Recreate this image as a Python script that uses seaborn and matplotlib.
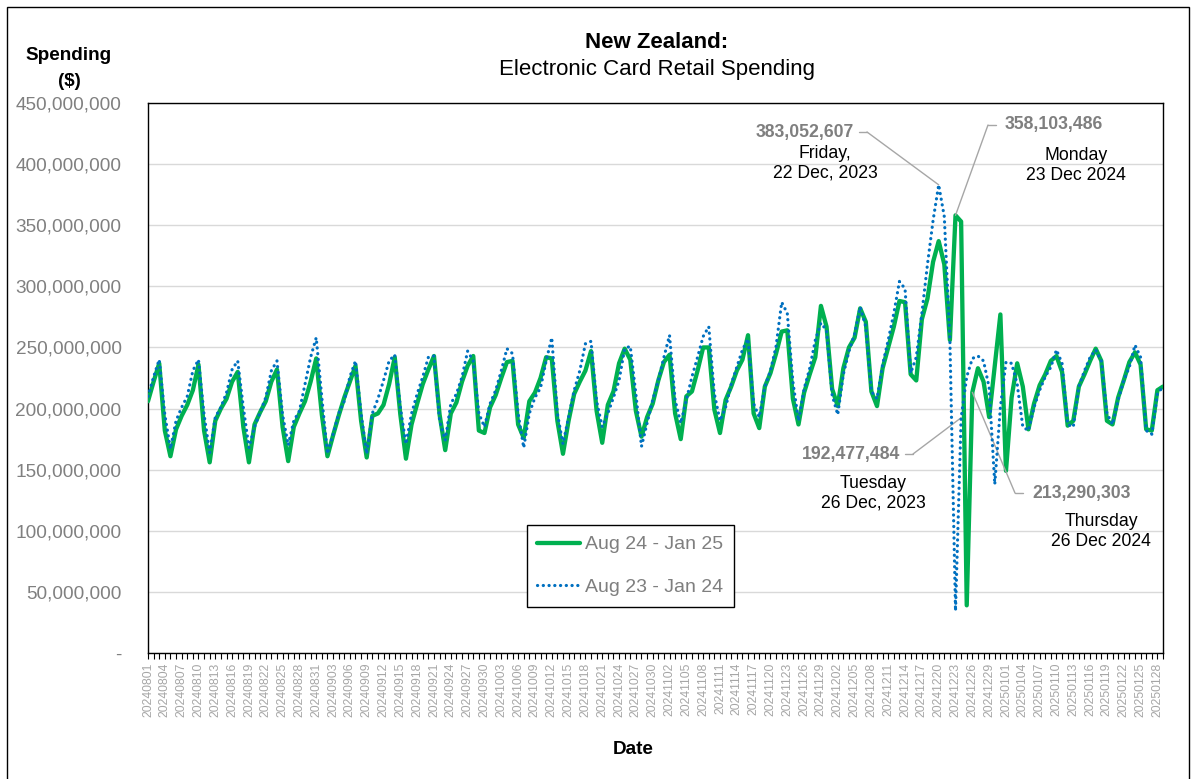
import numpy as np
import pandas as pd
import matplotlib
matplotlib.use("Agg")
import matplotlib.pyplot as plt
from matplotlib.ticker import FuncFormatter, MultipleLocator
from matplotlib.patches import Rectangle
from matplotlib.lines import Line2D
import seaborn as sns

# ---- data: daily electronic card retail spending, $ millions ----
dates = pd.date_range("2024-08-01", "2025-01-29").strftime("%Y%m%d").tolist()
series_names = ["Aug 24 - Jan 25", "Aug 23 - Jan 24"]

spend_2024 = [
    206, 222, 237, 182, 161, 183, 194, 203, 215, 236,
    182, 156, 190, 200, 208, 222, 230, 185, 156, 187,
    197, 206, 222, 232, 185, 157, 185, 196, 206, 222,
    241, 195, 161, 178, 194, 209, 222, 235, 190, 160,
    194, 196, 203, 220, 242, 195, 159, 187, 204, 220,
    232, 243, 195, 166, 196, 205, 222, 235, 243, 182,
    180, 201, 211, 225, 238, 239, 187, 176, 206, 213,
    225, 242, 241, 190, 163, 190, 212, 222, 231, 247,
    198, 172, 203, 214, 237, 249, 240, 198, 177, 193,
    204, 223, 238, 244, 196, 175, 210, 214, 231, 250,
    250, 199, 180, 207, 218, 231, 240, 260, 196, 184,
    218, 229, 245, 263, 264, 208, 187, 213, 228, 242,
    284, 267, 216, 202, 233, 250, 258, 282, 271, 214,
    202, 233, 250, 267, 288, 287, 228, 223, 273, 290,
    320, 337, 318, 256, 358.103486, 353, 39, 213.290303, 233, 222,
    193, 235, 277, 149, 209, 237, 218, 183, 204, 219,
    228, 239, 243, 230, 186, 190, 218, 228, 239, 249,
    239, 190, 187, 209, 223, 238, 246, 236, 183, 182,
    215, 218,
]

spend_2023 = [
    210, 226, 240, 195, 167, 190, 201, 210, 231, 240,
    195, 164, 193, 201, 213, 232, 239, 201, 168, 185,
    197, 209, 231, 239, 195, 170, 190, 198, 220, 242,
    258, 209, 163, 179, 196, 206, 226, 239, 196, 163,
    196, 208, 223, 239, 244, 201, 171, 196, 212, 226,
    242, 243, 190, 174, 204, 212, 226, 247, 239, 196,
    185, 204, 215, 231, 249, 245, 196, 168, 196, 209,
    217, 239, 258, 196, 171, 193, 215, 231, 253, 255,
    206, 185, 196, 209, 223, 249, 251, 212, 169, 188,
    207, 223, 242, 260, 207, 188, 207, 226, 242, 259,
    267, 212, 190, 201, 220, 234, 248, 257, 204, 193,
    218, 231, 251, 287, 278, 222, 190, 216, 233, 256,
    270, 264, 211, 195, 228, 247, 261, 283, 267, 214,
    208, 236, 256, 278, 304, 298, 229, 242, 278, 318,
    354, 383.052607, 357, 256, 34.5, 192.477484, 226, 241, 243, 239,
    217, 138, 201, 238, 237, 220, 185, 182, 201, 215,
    226, 234, 248, 237, 187, 185, 218, 231, 242, 248,
    239, 196, 187, 207, 223, 234, 252, 242, 182, 179,
    212, 218,
]

# ---- style ----
sns.set_theme(style="white")
plt.rcParams["font.family"] = ["Liberation Sans", "DejaVu Sans"]

W, H = 1195, 779
GREEN = "#00B050"
BLUE = "#0070C0"
GREY_TXT = "#7f7f7f"
LEADER = "#a6a6a6"


def fpos(px, py):
    """pixel position (from top-left) -> figure fraction"""
    return px / W, 1 - py / H


fig = plt.figure(figsize=(W / 100, H / 100), dpi=100)
fig.patch.set_facecolor("white")
ax = fig.add_axes([148 / W, 1 - 653 / H, (1163 - 148) / W, 550 / H])

day = np.arange(len(dates))
s24 = np.array(spend_2024) * 1e6
s23 = np.array(spend_2023) * 1e6

sns.lineplot(x=day, y=s24, ax=ax, color=GREEN, linewidth=3.1, zorder=3)
line24 = ax.lines[-1]
sns.lineplot(x=day, y=s23, ax=ax, color=BLUE, linewidth=2.3, zorder=4)
line23 = ax.lines[-1]
line23.set_linestyle((0, (0.05, 1.75)))
line23.set_dash_capstyle("round")
line24.set_solid_capstyle("round")
line24.set_solid_joinstyle("round")

# ---- axes ----
ax.set_xlim(0, len(dates) - 1)
ax.set_ylim(0, 450e6)
ax.yaxis.set_major_locator(MultipleLocator(50e6))
ax.yaxis.set_major_formatter(
    FuncFormatter(lambda v, _: "-" if abs(v) < 1 else f"{int(round(v)):,}"))
ax.grid(axis="y", color="#d9d9d9", linewidth=1.0)
ax.grid(axis="x", visible=False)
ax.set_axisbelow(True)
for sp in ax.spines.values():
    sp.set_visible(True)
    sp.set_color("black")
    sp.set_linewidth(1.0)

ax.set_xticks(day)
ax.set_xticklabels([d if k % 3 == 0 else "" for k, d in enumerate(dates)],
                   rotation=90, fontsize=8.7, color="#a6a6a6")
ax.tick_params(axis="x", bottom=True, length=4, width=0.8, color="black",
               direction="out", pad=3)
ax.tick_params(axis="y", left=False, length=0, pad=19, labelsize=13.7,
               labelcolor="#808080")
ax.set_xlabel("")
ax.set_ylabel("")

# ---- legend ----
leg = ax.legend([line24, line23], series_names, loc="upper left",
                bbox_to_anchor=(0.373, 0.2327), frameon=True, fancybox=False,
                edgecolor="black", fontsize=14, labelcolor=GREY_TXT,
                handlelength=2.2, handletextpad=0.25, labelspacing=1.3,
                borderpad=0.55, borderaxespad=0)
leg.get_frame().set_linewidth(1.0)
leg.get_frame().set_facecolor("white")
leg.get_frame().set_alpha(1)

# ---- titles and axis labels ----
fig.text(*fpos(657, 43), "New Zealand:", ha="center", va="center",
         fontsize=16, fontweight="bold", color="black")
fig.text(*fpos(657, 70), "Electronic Card Retail Spending", ha="center",
         va="center", fontsize=16, color="black")
fig.text(*fpos(69, 55), "Spending", ha="center", va="center", fontsize=13.6,
         fontweight="bold", color="black")
fig.text(*fpos(69, 81), "($)", ha="center", va="center", fontsize=13.6,
         fontweight="bold", color="black")
fig.text(*fpos(633, 750), "Date", ha="center", va="center", fontsize=13.6,
         fontweight="bold", color="black")


# ---- callouts ----
def callout(idx, values, text_px, align, elbow, sub_lines, sub_px):
    v = values[idx]
    label = f"{int(round(v * 1e6)):,}"
    fig.text(*fpos(*text_px), label, ha=align, va="center", fontsize=12.7,
             fontweight="bold", color=GREY_TXT)
    (hx0, hx1), hy = elbow
    fig.add_artist(Line2D([hx0 / W, hx1 / W], [1 - hy / H, 1 - hy / H],
                          transform=fig.transFigure, color=LEADER, lw=1.0))
    start = hx1 if align == "right" else hx0
    ax.annotate("", xy=(idx, v * 1e6), xycoords="data",
                xytext=fpos(start, hy), textcoords="figure fraction",
                arrowprops=dict(arrowstyle="-", color=LEADER, lw=1.0,
                                shrinkA=0, shrinkB=0))
    for k, s in enumerate(sub_lines):
        fig.text(*fpos(sub_px[0], sub_px[1] + 20 * k), s, ha="center",
                 va="center", fontsize=12.7, color="black")


i_peak23 = int(np.argmax(spend_2023))
i_peak24 = int(np.argmax(spend_2024))
callout(i_peak23, spend_2023, (854, 132), "right", ((859, 867), 132),
        ["Friday,", "22 Dec, 2023"], (825, 153))
callout(i_peak24, spend_2024, (1005, 125), "left", ((988, 996), 125),
        ["Monday", "23 Dec 2024"], (1076, 156))
callout(i_peak23 + 4, spend_2023, (900, 454), "right", ((905, 913), 454),
        ["Tuesday", "26 Dec, 2023"], (873, 483))
callout(i_peak24 + 3, spend_2024, (1032, 493), "left", ((1015, 1023), 493),
        ["Thursday", "26 Dec 2024"], (1101, 521))

# outer frame
fig.add_artist(Rectangle((7 / W, -0.02), (1189 - 7) / W, 1 - 7 / H + 0.02,
                         transform=fig.transFigure, fill=False,
                         edgecolor="black", linewidth=1.0))

fig.savefig("out.png", dpi=100, facecolor="white")
